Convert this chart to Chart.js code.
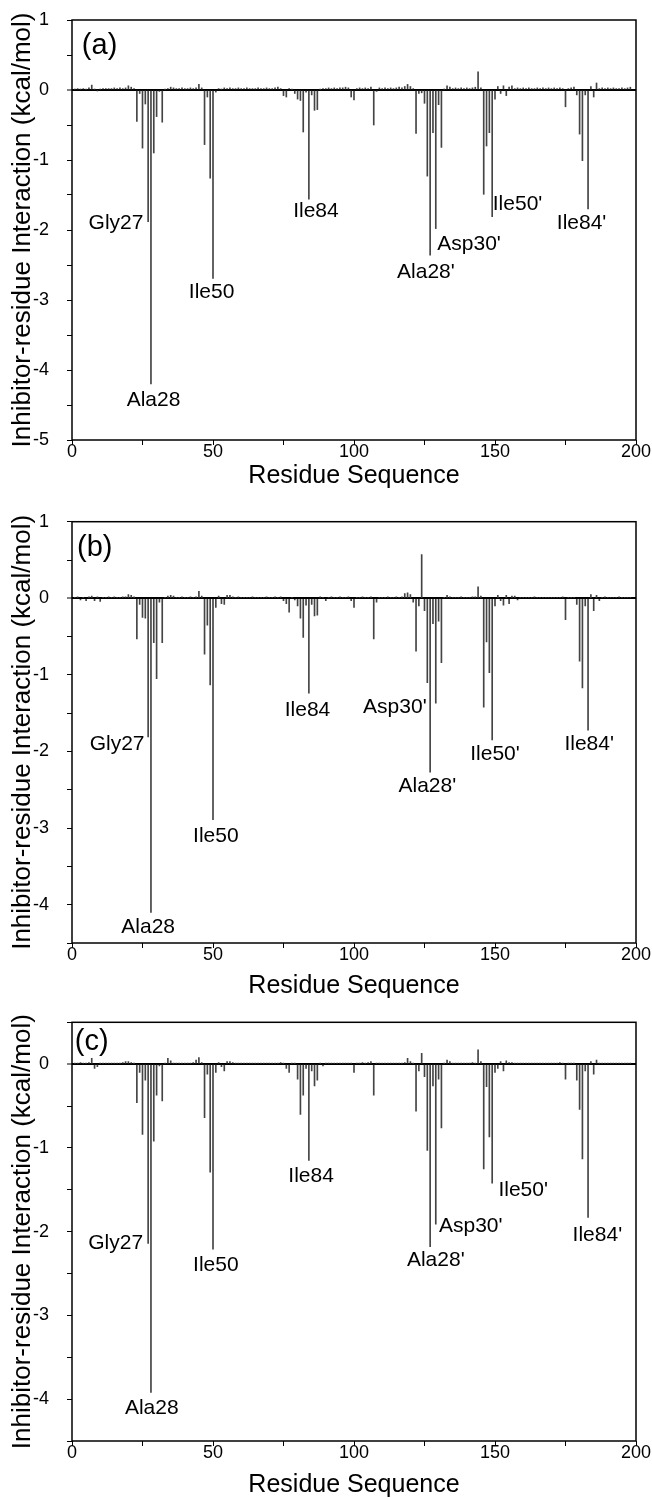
<!DOCTYPE html>
<html>
<head>
<meta charset="utf-8">
<script src="https://cdn.jsdelivr.net/npm/chart.js@4.4.1/dist/chart.umd.min.js"></script>
<style>
  body { margin: 0; background: #fff; }
  canvas { display: block; }
</style>
</head>
<body>
<canvas id="panelA" width="652" height="500"></canvas>
<canvas id="panelB" width="652" height="500"></canvas>
<canvas id="panelC" width="652" height="498"></canvas>
<script>
// residue numbering starts at 1 (chain A 1-99, chain B 100-198)
const firstResidue = 1;
const xTickLabels = [0, 50, 100, 150, 200];

// inhibitor-residue interaction energies (kcal/mol), residues 1..198
const energyA = [
  0.01, 0.02, 0.01, 0.02, 0.01, 0.03, 0.07, 0.01, -0.01, 0.01,
  0.02, 0.02, 0.02, 0.02, 0.03, 0.02, 0.03, 0.02, 0.03, 0.06,
  0.04, 0.02, -0.45, -0.05, -0.83, -0.2, -1.88, -4.2, -0.9, -0.38,
  -0.02, -0.46, 0.01, 0.02, 0.04, 0.03, 0.02, 0.02, 0.03, 0.02,
  0.02, 0.03, 0.02, 0.03, 0.08, 0.03, -0.78, -0.1, -1.26, -2.69,
  -0.03, 0.02, 0.01, 0.03, 0.02, 0.03, 0.02, 0.02, 0.03, 0.02,
  0.02, 0.03, 0.02, 0.02, 0.02, 0.03, 0.02, 0.02, 0.03, 0.02,
  0.02, 0.03, 0.04, 0.02, -0.08, -0.1, 0.02, 0.01, -0.05, -0.13,
  -0.15, -0.6, -0.03, -1.56, -0.07, -0.29, -0.28, 0.01, 0.02, 0.02,
  0.03, 0.02, 0.03, 0.02, 0.03, 0.03, 0.04, 0.03, -0.1, -0.14,
  0.02, 0.03, 0.02, 0.03, 0.02, 0.04, -0.5, -0.02, 0.03, 0.02,
  0.03, 0.02, 0.03, 0.02, 0.03, 0.04, 0.03, 0.05, 0.08, 0.05,
  0.02, -0.62, -0.05, -0.04, -0.19, -1.23, -2.36, -0.61, -1.98, -0.21,
  -0.82, 0.01, 0.06, 0.04, 0.02, 0.03, 0.02, 0.03, 0.02, 0.03,
  0.02, 0.03, 0.04, 0.26, 0.03, -1.49, -0.8, -0.61, -1.81, -0.13,
  0.05, -0.05, 0.06, -0.08, 0.04, 0.06, 0.02, 0.03, 0.02, 0.03,
  0.02, 0.03, 0.02, 0.02, 0.03, 0.02, 0.03, 0.02, 0.03, 0.02,
  0.03, 0.02, 0.03, 0.02, -0.24, 0.02, 0.03, 0.04, -0.07, -0.63,
  -1.01, -0.07, -1.7, 0.05, -0.1, 0.1, 0.02, 0.03, 0.02, 0.03,
  0.02, 0.03, 0.02, 0.02, 0.03, 0.02, 0.03, 0.04
];

const energyB = [
  0.01, 0.02, -0.02, 0.01, -0.03, 0.02, 0.03, -0.03, 0.02, -0.04,
  0.01, 0.01, 0.02, 0.01, 0.02, 0.01, 0.01, 0.02, 0.02, 0.05,
  0.04, 0.02, -0.53, -0.08, -0.25, -0.26, -1.81, -4.1, -0.58, -1.05,
  -0.05, -0.58, 0.01, 0.03, 0.04, 0.03, 0.01, 0.01, 0.02, 0.01,
  0.01, 0.02, 0.01, 0.02, 0.09, 0.03, -0.73, -0.35, -1.13, -2.89,
  -0.12, 0.03, -0.07, -0.08, 0.04, 0.04, 0.02, 0.01, 0.02, 0.01,
  0.01, 0.01, 0.01, 0.02, 0.01, 0.01, 0.01, 0.01, 0.02, 0.01,
  0.01, 0.02, 0.01, 0.02, -0.03, -0.07, -0.18, 0.01, -0.02, -0.1,
  -0.26, -0.51, -0.09, -1.24, -0.08, -0.23, -0.22, 0.02, 0.01, -0.03,
  0.01, 0.02, 0.01, 0.01, 0.02, 0.01, 0.01, 0.02, -0.03, -0.12,
  0.01, 0.01, 0.02, 0.01, 0.01, 0.02, -0.53, -0.05, 0.01, 0.01,
  0.01, 0.02, 0.01, 0.01, 0.02, 0.01, 0.02, 0.06, 0.07, 0.05,
  -0.05, -0.69, -0.1, 0.57, -0.16, -1.1, -2.27, -0.33, -1.37, -0.3,
  -0.84, 0.01, 0.04, 0.02, 0.01, 0.01, 0.01, 0.02, 0.01, 0.01,
  0.01, 0.02, 0.02, 0.15, 0.03, -1.42, -0.57, -0.97, -1.85, -0.1,
  0.04, -0.03, -0.09, 0.04, -0.07, 0.03, 0.03, -0.02, 0.01, 0.01,
  0.01, 0.01, 0.01, 0.02, 0.01, 0.01, 0.01, 0.01, 0.01, 0.01,
  0.01, 0.01, 0.01, 0.02, -0.28, 0.01, 0.01, 0.01, -0.08, -0.82,
  -1.17, -0.1, -1.72, 0.05, -0.16, 0.04, -0.03, 0.01, 0.02, 0.01,
  0.01, 0.01, 0.01, 0.02, 0.01, 0.01, 0.01, 0.01
];

const energyC = [
  0.01, 0.01, 0.02, 0.01, 0.01, 0.02, 0.07, -0.05, -0.03, 0.01,
  0.01, 0.01, 0.01, 0.01, 0.01, 0.01, 0.01, 0.02, 0.03, 0.03,
  0.02, 0.01, -0.46, -0.1, -0.84, -0.19, -2.14, -3.92, -0.92, -0.37,
  -0.02, -0.44, 0.01, 0.07, 0.04, 0.01, 0.01, 0.01, 0.01, 0.01,
  0.01, 0.01, 0.02, 0.05, 0.08, 0.02, -0.64, -0.12, -1.29, -2.21,
  -0.1, 0.02, -0.03, -0.08, 0.03, 0.03, 0.02, 0.01, 0.01, 0.01,
  0.01, 0.01, 0.01, 0.01, 0.01, 0.01, 0.01, 0.01, 0.01, 0.01,
  0.01, 0.01, 0.01, 0.02, 0.01, -0.05, -0.1, 0.01, 0.01, -0.18,
  -0.6, -0.37, -0.05, -1.15, -0.08, -0.26, -0.19, 0.01, -0.02, 0.01,
  0.01, 0.01, 0.01, 0.01, 0.01, 0.01, 0.01, 0.01, 0.01, -0.1,
  0.01, 0.01, 0.02, 0.01, 0.02, 0.03, -0.37, 0.01, 0.01, 0.01,
  0.01, 0.01, 0.01, 0.01, 0.01, 0.01, 0.01, 0.02, 0.07, 0.03,
  0.01, -0.56, -0.08, 0.13, -0.15, -1.03, -2.18, -0.26, -1.91, -0.18,
  -0.76, 0.01, 0.05, 0.03, 0.01, 0.01, 0.01, 0.01, 0.01, 0.01,
  0.01, 0.02, 0.01, 0.17, 0.03, -1.25, -0.27, -0.87, -1.42, -0.1,
  -0.05, 0.03, -0.08, 0.04, 0.02, 0.02, 0.01, 0.01, 0.01, 0.01,
  0.01, 0.01, 0.01, 0.01, 0.01, 0.01, 0.01, 0.01, 0.01, 0.01,
  0.01, 0.01, 0.02, 0.01, -0.18, 0.01, 0.01, 0.01, -0.19, -0.54,
  -1.13, -0.08, -1.83, 0.03, -0.12, 0.05, 0.01, 0.01, 0.01, 0.01,
  0.01, 0.01, 0.01, 0.01, 0.01, 0.01, 0.01, 0.01
];

// residue labels, placed at (residue, energy)
const notesA = [
  { text: "Gly27", r: 15.6, v: -1.91 }, { text: "Ala28", r: 28.9, v: -4.43 },
  { text: "Ile50", r: 49.5, v: -2.89 }, { text: "Ile84", r: 86.5, v: -1.73 },
  { text: "Ala28'", r: 125.5, v: -2.61 }, { text: "Asp30'", r: 140.8, v: -2.21 },
  { text: "Ile50'", r: 158, v: -1.63 }, { text: "Ile84'", r: 180.7, v: -1.9 }
];
const notesB = [
  { text: "Gly27", r: 16, v: -1.9 }, { text: "Ala28", r: 27, v: -4.29 },
  { text: "Ile50", r: 51, v: -3.11 }, { text: "Ile84", r: 83.5, v: -1.46 },
  { text: "Asp30'", r: 114.5, v: -1.42 }, { text: "Ala28'", r: 126, v: -2.45 },
  { text: "Ile50'", r: 150, v: -2.03 }, { text: "Ile84'", r: 183.4, v: -1.9 }
];
const notesC = [
  { text: "Gly27", r: 15.5, v: -2.14 }, { text: "Ala28", r: 28.3, v: -4.11 },
  { text: "Ile50", r: 51, v: -2.4 }, { text: "Ile84", r: 84.8, v: -1.34 },
  { text: "Ala28'", r: 129, v: -2.34 }, { text: "Asp30'", r: 141.4, v: -1.94 },
  { text: "Ile50'", r: 160, v: -1.5 }, { text: "Ile84'", r: 186.3, v: -2.04 }
];

const fontFamily = '"Liberation Sans", Arial, sans-serif';

const annotate = {
  id: "annotate",
  afterDatasetsDraw(chart, args, opts) {
    const { ctx, chartArea, scales: { x, y } } = chart;
    ctx.save();
    ctx.fillStyle = "#000";
    ctx.textBaseline = "middle";
    ctx.textAlign = "left";
    ctx.font = "29px " + fontFamily;
    ctx.fillText(opts.panel, x.getPixelForValue(opts.panelAt[0]), y.getPixelForValue(opts.panelAt[1]));
    ctx.font = "21px " + fontFamily;
    ctx.textAlign = "center";
    opts.notes.forEach(n => ctx.fillText(n.text, x.getPixelForValue(n.r), y.getPixelForValue(n.v)));
    ctx.lineWidth = 1.5;
    ctx.strokeStyle = "#000";
    ctx.strokeRect(chartArea.left, chartArea.top, chartArea.right - chartArea.left, chartArea.bottom - chartArea.top);
    ctx.restore();
  }
};

function makePanel(id, energy, notes, panel, panelAt, yMin, yMax, plotTop, xAxisH, titlePad) {
  const points = energy.map((v, i) => ({ x: i + firstResidue, y: v }));
  return new Chart(document.getElementById(id), {
    type: "bar",
    data: {
      datasets: [{
        data: points,
        backgroundColor: "#444",
        borderWidth: 0,
        barThickness: 1
      }]
    },
    options: {
      responsive: false,
      animation: false,
      layout: { padding: { top: plotTop, right: 16, left: 0, bottom: 0 } },
      plugins: {
        legend: { display: false },
        tooltip: { enabled: false },
        annotate: { notes: notes, panel: panel, panelAt: panelAt }
      },
      scales: {
        x: {
          type: "linear",
          min: 0,
          max: 200,
          offset: false,
          afterFit: s => { s.height = xAxisH; s.paddingLeft = 0; s.paddingRight = 0; },
          afterBuildTicks: s => {
            s.ticks = [0, 25, 50, 75, 100, 125, 150, 175, 200].map(v => ({ value: v }));
          },
          grid: { drawOnChartArea: false, offset: false, tickLength: 5, tickColor: "#000", tickWidth: 1 },
          border: { display: false },
          ticks: {
            autoSkip: false,
            maxRotation: 0,
            padding: -4,
            color: "#000",
            font: { family: fontFamily, size: 18 },
            callback: v => xTickLabels.includes(v) ? String(v) : ""
          },
          title: {
            display: true,
            text: "Residue Sequence",
            color: "#000",
            font: { family: fontFamily, size: 25, lineHeight: 1 },
            padding: { top: 0, bottom: titlePad }
          }
        },
        y: {
          min: yMin,
          max: yMax,
          afterFit: s => { s.width = 72; s.paddingTop = 0; s.paddingBottom = 0; },
          grid: {
            color: c => c.tick && c.tick.value === 0 ? "#000" : "rgba(0,0,0,0)",
            lineWidth: c => c.tick && c.tick.value === 0 ? 2 : 1,
            tickLength: 5,
            tickColor: "#000",
            tickWidth: 1
          },
          border: { display: false },
          ticks: {
            stepSize: 0.5,
            padding: 18,
            color: "#000",
            font: { family: fontFamily, size: 18 },
            callback: v => Number.isInteger(v) ? String(v) : ""
          },
          title: {
            display: true,
            text: "Inhibitor-residue Interaction (kcal/mol)",
            color: "#000",
            font: { family: fontFamily, size: 26 },
            padding: { top: 7, bottom: 0 }
          }
        }
      }
    },
    plugins: [annotate]
  });
}

makePanel("panelA", energyA, notesA, "(a)", [3.5, 0.63], -5, 1, 20, 60, 11);
makePanel("panelB", energyB, notesB, "(b)", [1.8, 0.66], -4.5, 1, 21.7, 57, 1);
makePanel("panelC", energyC, notesC, "(c)", [1, 0.26], -4.5, 0.5, 22.3, 57, 0);
</script>
</body>
</html>
